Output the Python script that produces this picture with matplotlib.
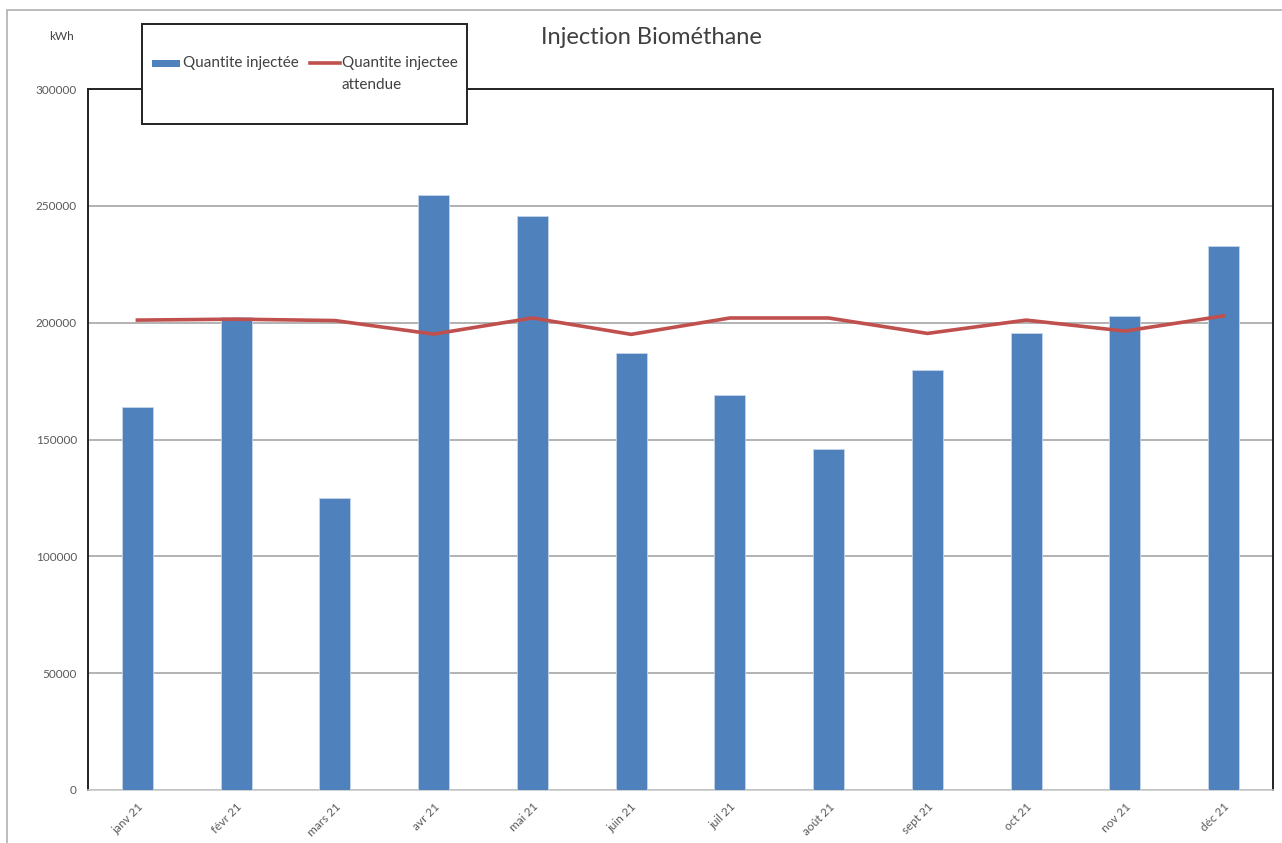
import matplotlib
matplotlib.use("Agg")
import matplotlib.pyplot as plt
from matplotlib.patches import Rectangle
from matplotlib.lines import Line2D
import numpy as np

plt.rcParams['font.family'] = ['Lato', 'DejaVu Sans']

mois = ['janv 21', 'févr 21', 'mars 21', 'avr 21', 'mai 21', 'juin 21',
        'juil 21', 'août 21', 'sept 21', 'oct 21', 'nov 21', 'déc 21']
quantite = [163900, 202400, 125000, 254600, 245700, 187100,
            169200, 146100, 179900, 195700, 202900, 232600]
attendue = [201100, 201500, 200900, 195100, 202000, 195000,
            202000, 202000, 195400, 201100, 196400, 202900]
yticks = [0, 50000, 100000, 150000, 200000, 250000, 300000]

BLEU = '#4F81BD'
ROUGE = '#C0504D'

W, H = 1282, 843
fig = plt.figure(figsize=(W / 100, H / 100), dpi=100)


def fx(px):
    return px / W


def fy(py):
    return 1 - py / H


# cadre gris du graphique
fig.patches.append(Rectangle((fx(7), -0.1), 1.2, fy(10) + 0.1,
                             transform=fig.transFigure, fill=False,
                             edgecolor='#b0b0b0', lw=1.2, zorder=0))

ax = fig.add_axes([fx(88), fy(790), 1185 / W, 701 / H])
x = np.arange(len(mois))

ax.bar(x, quantite, width=0.315, color=BLEU, edgecolor='#c6d5ea',
       linewidth=0.6, zorder=3)
ax.plot(x, attendue, color=ROUGE, lw=2.6, zorder=4)

ax.set_xlim(-0.5, len(mois) - 0.5)
ax.set_ylim(0, 300000)
ax.set_yticks(yticks)
ax.set_yticklabels([str(v) for v in yticks], fontsize=8.5, color='#595959')
ax.set_xticks(x)
ax.set_xticklabels(mois, rotation=45, ha='right', rotation_mode='anchor',
                   fontsize=8.5, color='#595959')
ax.tick_params(axis='y', length=0, pad=8)
ax.tick_params(axis='x', length=0, pad=8)
ax.yaxis.grid(True, color='#a6a6a6', lw=1.2, zorder=0)
ax.set_axisbelow(True)

for s in ['top', 'left', 'right']:
    ax.spines[s].set_color('#222222')
    ax.spines[s].set_linewidth(1.4)
ax.spines['bottom'].set_color('#c8c8c8')
ax.spines['bottom'].set_linewidth(1.2)

fig.text(fx(62), fy(36), 'kWh', fontsize=8.5, color='#404040',
         ha='center', va='center')
fig.text(fx(651), fy(38), 'Injection Biométhane', fontsize=17,
         color='#404040', ha='center', va='center')

# boîte de légende
fig.patches.append(Rectangle((fx(142), fy(124)), 325 / W, 100 / H,
                             transform=fig.transFigure, facecolor='white',
                             edgecolor='#222222', lw=1.4, zorder=5))
fig.patches.append(Rectangle((fx(152), fy(67)), 28 / W, 7 / H,
                             transform=fig.transFigure, facecolor=BLEU,
                             edgecolor='none', zorder=6))
fig.text(fx(183), fy(63), 'Quantite injectée', fontsize=11,
         color='#404040', ha='left', va='center', zorder=6)
fig.lines.append(Line2D([fx(310), fx(340)], [fy(63), fy(63)],
                        transform=fig.transFigure, color=ROUGE, lw=2.6,
                        zorder=6))
fig.text(fx(342), fy(63), 'Quantite injectee', fontsize=11,
         color='#404040', ha='left', va='center', zorder=6)
fig.text(fx(342), fy(85), 'attendue', fontsize=11,
         color='#404040', ha='left', va='center', zorder=6)

fig.savefig('out.png', dpi=100, facecolor='white')
